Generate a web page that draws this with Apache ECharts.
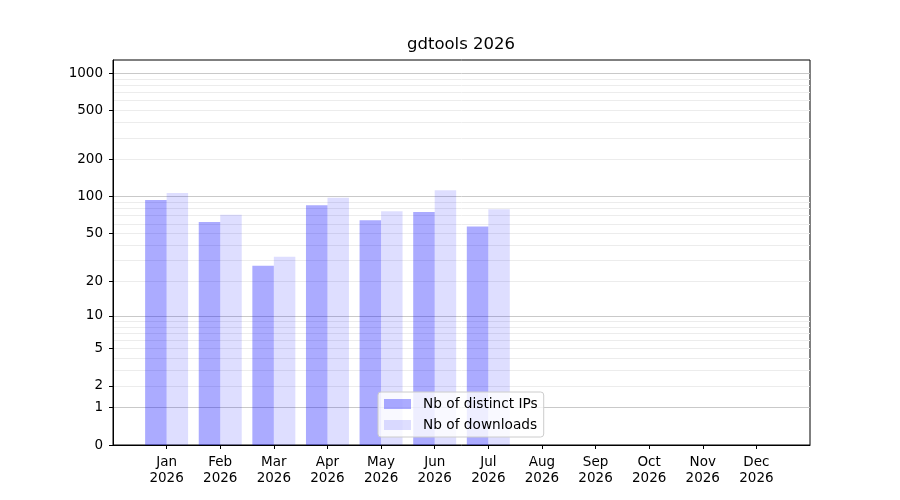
<!DOCTYPE html>
<html>
<head>
<meta charset="utf-8">
<script src="https://cdn.jsdelivr.net/npm/echarts@6/dist/echarts.min.js"></script>
<style>
  html, body { margin: 0; padding: 0; background: #fff; }
  #chart { width: 900px; height: 500px; }
</style>
</head>
<body>
<div id="chart"></div>
<script>
const months = ['Jan', 'Feb', 'Mar', 'Apr', 'May', 'Jun', 'Jul', 'Aug', 'Sep', 'Oct', 'Nov', 'Dec'];
const year = '2026';
const distinctIps = [94, 62, 27, 85, 64, 75, 57];
const downloads = [107, 71, 32, 98, 76, 113, 79];
const yTicks = [0, 1, 2, 5, 10, 20, 50, 100, 200, 500, 1000];
const majorGrid = [1, 10, 100, 1000];
const minorGrid = [2, 3, 4, 5, 6, 7, 8, 9, 20, 30, 40, 50, 60, 70, 80, 90, 200, 300, 400, 500, 600, 700, 800, 900];
const xTicks = [0, 1, 2, 3, 4, 5, 6, 7, 8, 9, 10, 11];

// y is drawn as log10(1 + v)
const tr = v => Math.log10(1 + v);
const yMax = tr(1279);
const font = 'DejaVu Sans';

const gridAxis = (values, color) => ({
  type: 'value', min: 0, max: yMax, position: 'left',
  axisLine: { show: false, onZero: false },
  axisTick: { show: false, customValues: values.map(tr) },
  axisLabel: { show: false, customValues: values.map(tr) },
  splitLine: { show: true, lineStyle: { color: color, width: 1 } }
});

const chart = echarts.init(document.getElementById('chart'));
chart.setOption({
  animation: false,
  title: {
    text: 'gdtools 2026', left: 461, top: 36, textAlign: 'center', padding: 0,
    textStyle: { fontFamily: font, fontSize: 16.5, fontWeight: 'normal', color: '#000' }
  },
  grid: { left: 113, right: 90, top: 60, bottom: 55, show: true, borderColor: '#000', borderWidth: 1 },
  legend: {
    orient: 'vertical', left: 378, top: 392,
    padding: [5, 6, 5, 6], itemGap: 7, itemWidth: 27, itemHeight: 10,
    backgroundColor: 'rgba(255,255,255,0.8)', borderColor: '#cccccc', borderWidth: 1, borderRadius: 3,
    textStyle: { fontFamily: font, fontSize: 13.7, lineHeight: 14, color: '#000', padding: [0, 0, 0, 7] },
    data: [{ name: 'Nb of distinct IPs', icon: 'rect' }, { name: 'Nb of downloads', icon: 'rect' }]
  },
  xAxis: {
    type: 'value', min: -1, max: 12,
    axisLine: { onZero: false, lineStyle: { color: '#000' } },
    axisTick: { customValues: xTicks, length: 4, lineStyle: { color: '#000' } },
    axisLabel: {
      customValues: xTicks, margin: 9, fontFamily: font, fontSize: 13.5, lineHeight: 16, color: '#000',
      formatter: v => months[v] + '\n' + year
    },
    splitLine: { show: false }
  },
  yAxis: [
    {
      type: 'value', min: 0, max: yMax, position: 'left',
      axisLine: { show: true, onZero: false, lineStyle: { color: '#000' } },
      axisTick: { show: true, customValues: yTicks.map(tr), length: 4, lineStyle: { color: '#000' } },
      axisLabel: {
        customValues: yTicks.map(tr), margin: 10, fontFamily: font, fontSize: 13.5, color: '#000',
        formatter: v => String(Math.round(Math.pow(10, v) - 1))
      },
      splitLine: { show: false }
    },
    gridAxis(minorGrid, '#ececec'),
    gridAxis(majorGrid, '#c9c9c9')
  ],
  series: [
    {
      name: 'Nb of distinct IPs', type: 'bar', barWidth: 21.5, barGap: '0%',
      itemStyle: { color: 'rgba(0,0,255,0.33)' },
      data: distinctIps.map((v, i) => [i, tr(v)])
    },
    {
      name: 'Nb of downloads', type: 'bar', barWidth: 21.5, barGap: '0%',
      itemStyle: { color: 'rgba(0,0,255,0.13)' },
      data: downloads.map((v, i) => [i, tr(v)])
    }
  ]
});
</script>
</body>
</html>
